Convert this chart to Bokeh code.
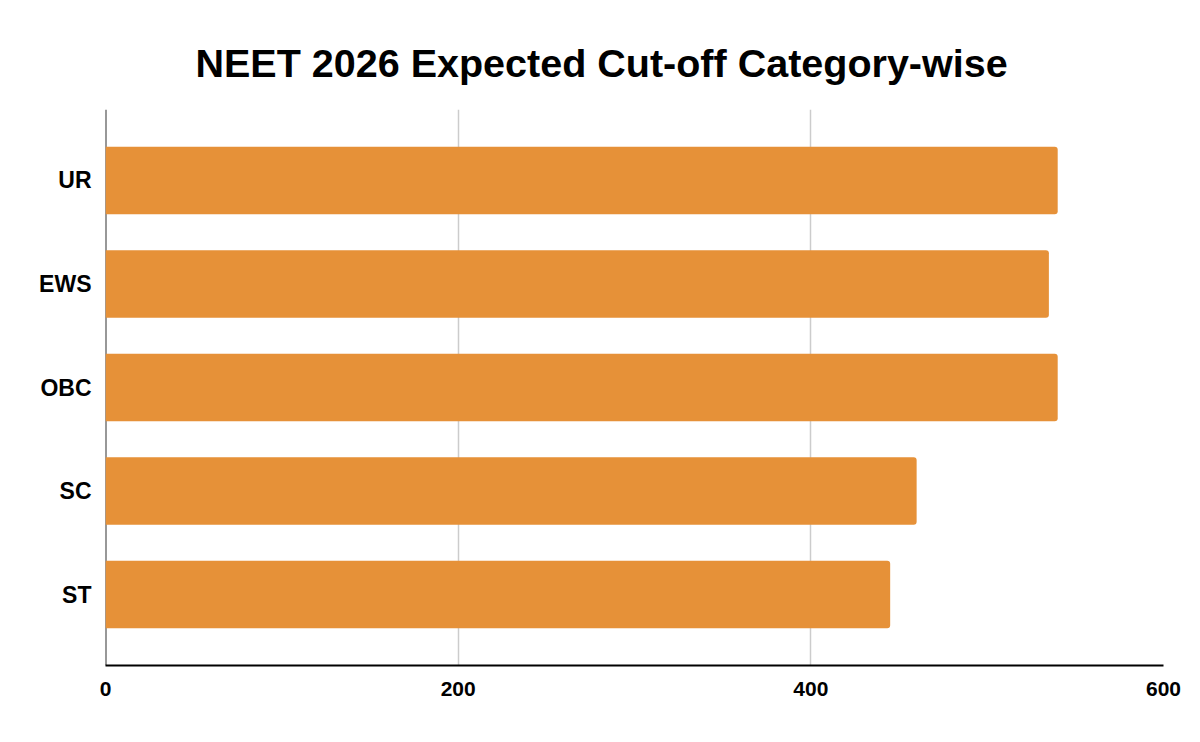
from bokeh.embed import file_html
from bokeh.models import ColumnDataSource, FactorRange, Range1d, FixedTicker, Span
from bokeh.plotting import figure
from bokeh.resources import INLINE

# chart data
categories = ["UR", "EWS", "OBC", "SC", "ST"]
cutoffs = [540, 535, 540, 460, 445]
x_ticks = [0, 200, 400, 600]

BAR_COLOR = "#e69138"
FONT = "Liberation Sans"

source = ColumnDataSource(data=dict(category=categories, cutoff=cutoffs))

# declare bokeh figure, UR on top
p = figure(
    width=1184,
    height=726,
    y_range=FactorRange(factors=list(reversed(categories)), range_padding=0.185,
                        range_padding_units="absolute"),
    x_range=Range1d(0, 600),
    output_backend="svg",
    toolbar_location=None,
    tools="",
    min_border_left=105,
    min_border_right=21,
    min_border_top=109,
    min_border_bottom=61,
)

p.title.text = "NEET 2026 Expected Cut-off Category-wise"
p.title.align = "left"
p.title.offset = 90
p.title.standoff = 50
p.title.text_font = FONT
p.title.text_font_size = "39.5px"
p.title.text_font_style = "bold"
p.title.text_color = "#000000"

# left axis line sits under the bars
p.add_layout(Span(location=0, dimension="height", line_color="#333333",
                  line_width=2, level="underlay"))

# horizontal bars
p.hbar(
    y="category",
    left=0,
    right="cutoff",
    height=0.652,
    source=source,
    color=BAR_COLOR,
    line_color=None,
    border_radius=(0, 3, 3, 0),
)

p.outline_line_color = None
p.background_fill_color = "white"

# grid
p.ygrid.grid_line_color = None
p.xgrid.grid_line_color = "#cccccc"
p.xgrid.grid_line_width = 1.5
p.xgrid.ticker = FixedTicker(ticks=x_ticks)

# x axis
p.xaxis.ticker = FixedTicker(ticks=x_ticks)
p.xaxis.axis_line_color = "#000000"
p.xaxis.axis_line_width = 2
p.xaxis.major_tick_line_color = None
p.xaxis.minor_tick_line_color = None
p.xaxis.major_label_text_font = FONT
p.xaxis.major_label_text_font_size = "21px"
p.xaxis.major_label_text_font_style = "bold"
p.xaxis.major_label_text_color = "#000000"
p.xaxis.major_label_standoff = 10

# y axis
p.yaxis.axis_line_color = None
p.yaxis.major_tick_line_color = None
p.yaxis.minor_tick_line_color = None
p.yaxis.major_label_text_font = FONT
p.yaxis.major_label_text_font_size = "23px"
p.yaxis.major_label_text_font_style = "bold"
p.yaxis.major_label_text_color = "#000000"
p.yaxis.major_label_standoff = 8

open("out.html", "w").write(file_html(p, INLINE))
